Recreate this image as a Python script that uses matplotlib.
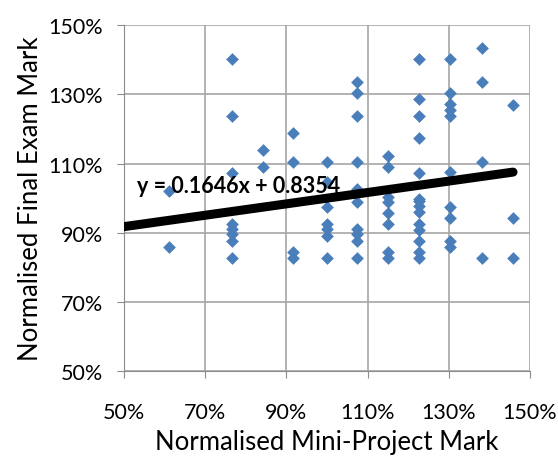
import matplotlib
matplotlib.use("Agg")
import matplotlib.pyplot as plt
from matplotlib.ticker import PercentFormatter

plt.rcParams['font.family'] = ['Lato', 'DejaVu Sans']

# normalised mini-project mark (x) and final exam mark (y)
mini_project = [
    0.611, 0.611,
    0.767, 0.767, 0.767, 0.767, 0.767, 0.767, 0.767, 0.767,
    0.843, 0.843,
    0.917, 0.917, 0.917, 0.917,
    0.999, 0.999, 0.999, 0.999, 0.999, 0.999, 0.999,
    1.075, 1.075, 1.075, 1.075, 1.075, 1.075, 1.075, 1.075, 1.075, 1.075,
    1.149, 1.149, 1.149, 1.149, 1.149, 1.149, 1.149, 1.149,
    1.226, 1.226, 1.226, 1.226, 1.226, 1.226, 1.226, 1.226, 1.226, 1.226,
    1.226, 1.226, 1.226, 1.226,
    1.302, 1.302, 1.302, 1.302, 1.302, 1.302, 1.302, 1.302, 1.302, 1.302,
    1.381, 1.381, 1.381, 1.381,
    1.458, 1.458, 1.458,
]
final_exam = [
    1.020, 0.858,
    1.402, 1.237, 1.072, 0.925, 0.910, 0.896, 0.876, 0.827,
    1.139, 1.090,
    1.188, 1.104, 0.844, 0.827,
    1.104, 1.046, 0.974, 0.925, 0.910, 0.890, 0.827,
    1.335, 1.303, 1.237, 1.104, 1.026, 0.988, 0.910, 0.896, 0.876, 0.827,
    1.121, 1.090, 1.003, 0.988, 0.957, 0.925, 0.844, 0.827,
    1.402, 1.286, 1.237, 1.173, 1.072, 0.997, 0.991, 0.977, 0.960, 0.925,
    0.907, 0.876, 0.844, 0.827,
    1.402, 1.303, 1.272, 1.254, 1.237, 1.075, 0.974, 0.942, 0.876, 0.858,
    1.434, 1.335, 1.104, 0.827,
    1.269, 0.942, 0.827,
]

slope = 0.1646
intercept = 0.8354
trend_x = [0.5, 1.458]
trend_y = [slope * v + intercept for v in trend_x]
equation = 'y = 0.1646x + 0.8354'

ticks = [0.5, 0.7, 0.9, 1.1, 1.3, 1.5]

fig = plt.figure(figsize=(5.58, 4.6), dpi=100)
ax = fig.add_axes([0.222, 0.191, 0.728, 0.752])

ax.scatter(mini_project, final_exam, marker='D', s=42, color='#4a7ebb', zorder=3, linewidths=0)
ax.plot(trend_x, trend_y, color='black', linewidth=6.5, solid_capstyle='round', zorder=4)
ax.text(0.532, 1.036, equation, fontsize=15.5, fontweight='bold', va='center', ha='left', zorder=5)

ax.set_xlim(0.5, 1.5)
ax.set_ylim(0.5, 1.5)
ax.set_xticks(ticks)
ax.set_yticks(ticks)
ax.xaxis.set_major_formatter(PercentFormatter(1.0, decimals=0))
ax.yaxis.set_major_formatter(PercentFormatter(1.0, decimals=0))
ax.grid(True, color='#a6a6a6', linewidth=1.2)
ax.set_axisbelow(True)
for side in ['top', 'right']:
    ax.spines[side].set_visible(False)
for side in ['left', 'bottom']:
    ax.spines[side].set_color('#8c8c8c')
ax.tick_params(axis='both', colors='#8c8c8c', labelcolor='black', labelsize=15.5, length=5)
ax.tick_params(axis='x', pad=17)
ax.tick_params(axis='y', pad=10)

ax.set_xlabel('Normalised Mini-Project Mark', fontsize=18.5, labelpad=5)
ax.set_ylabel('Normalised Final Exam Mark', fontsize=18.5, labelpad=4)

fig.savefig('out.png', dpi=100)
